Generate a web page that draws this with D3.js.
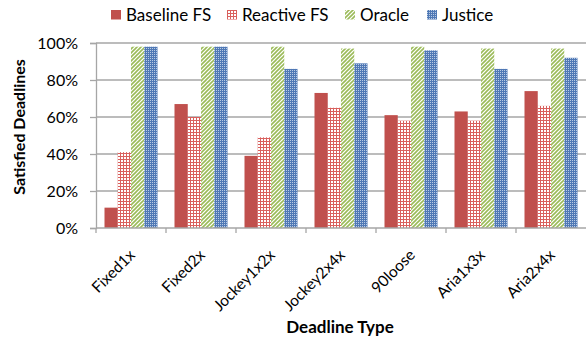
<!DOCTYPE html>
<html><head><meta charset="utf-8">
<script src="https://cdn.jsdelivr.net/npm/d3@7"></script>
<style>body{margin:0;background:#fff}svg{display:block}text{font-family:Lato,"Open Sans",sans-serif;fill:#000}</style>
</head><body>
<svg id="c" width="586" height="346"></svg>
<script>
const categories = ["Fixed1x","Fixed2x","Jockey1x2x","Jockey2x4x","90loose","Aria1x3x","Aria2x4x"];
const seriesNames = ["Baseline FS","Reactive FS","Oracle","Justice"];
const baseline = [11,67,39,73,61,63,74];
const reactive = [41,60,49,65,58,58,66];
const oracle   = [98,98,98,97,98,97,97];
const justice  = [98,98,86,89,96,86,92];
const yTicks = [0,20,40,60,80,100];
const series = [baseline, reactive, oracle, justice];

const svg = d3.select("#c");
const m = {l:96, r:0};
const W = 586, H = 346;
const defs = svg.append("defs");
// patterns
const p1 = defs.append("pattern").attr("id","pReact").attr("width",3).attr("height",3).attr("patternUnits","userSpaceOnUse");
p1.append("rect").attr("width",3).attr("height",3).attr("fill","#fff");
p1.append("rect").attr("width",1).attr("height",3).attr("fill","#D9605D");
p1.append("rect").attr("width",3).attr("height",1).attr("fill","#D9605D");
const p2 = defs.append("pattern").attr("id","pOracle").attr("width",4).attr("height",4).attr("patternUnits","userSpaceOnUse");
p2.append("rect").attr("width",4).attr("height",4).attr("fill","#fff");
p2.append("path").attr("d","M-1,1 L1,-1 M0,4 L4,0 M3,5 L5,3").attr("stroke","#9BBB59").attr("stroke-width",1.6);
const p3 = defs.append("pattern").attr("id","pJust").attr("width",2).attr("height",2).attr("patternUnits","userSpaceOnUse");
p3.append("rect").attr("width",2).attr("height",2).attr("fill","#4F78B5");
p3.append("rect").attr("width",1).attr("height",1).attr("fill","#B9CBE4");
const fills = ["#C0504D","url(#pReact)","url(#pOracle)","url(#pJust)"];

const x = d3.scaleBand().domain(categories).range([m.l, W - m.r]).paddingInner(0).paddingOuter(0);
const y = d3.scaleLinear().domain([0,100]).range([228, 43]);
const xs = d3.scaleBand().domain(seriesNames).range([8.5, x.bandwidth()-8.5]);

// gridlines
svg.append("g").selectAll("line").data(yTicks.filter(d=>d>0)).join("line")
  .attr("x1", m.l).attr("x2", W).attr("y1", d=>y(d)).attr("y2", d=>y(d))
  .attr("stroke","#A6A6A6").attr("stroke-width",1.3);

// y axis
const yAxis = d3.axisLeft(y).tickValues(yTicks).tickFormat(d=>d+"%").tickSize(6).tickPadding(12);
const gy = svg.append("g").attr("transform",`translate(${m.l},0)`).call(yAxis);
gy.select(".domain").attr("stroke","#A6A6A6").attr("stroke-width",1.3);
gy.selectAll(".tick line").attr("stroke","#A6A6A6").attr("stroke-width",1.3);
gy.selectAll(".tick text").attr("font-size",16).attr("font-family","Lato,sans-serif").attr("fill","#000");

// bars
const groups = svg.append("g").selectAll("g").data(categories).join("g")
  .attr("transform", d=>`translate(${x(d)},0)`);
groups.selectAll("rect").data((c,i)=>series.map((s,j)=>({name:seriesNames[j], v:s[i], j})))
  .join("rect")
  .attr("x", d=>xs(d.name)).attr("width", xs.bandwidth())
  .attr("y", d=>y(d.v)).attr("height", d=>y(0)-y(d.v))
  .attr("fill", d=>fills[d.j]);

// x axis
const gx = svg.append("g").attr("transform",`translate(0,${y(0)})`);
gx.append("line").attr("x1",m.l).attr("x2",W).attr("stroke","#A6A6A6").attr("stroke-width",1.3);
gx.selectAll(".tk").data(categories).join("line").attr("class","tk")
  .attr("x1",d=>x(d)).attr("x2",d=>x(d)).attr("y1",0).attr("y2",5)
  .attr("stroke","#A6A6A6").attr("stroke-width",1.3);
gx.selectAll("text").data(categories).join("text")
  .attr("text-anchor","end").attr("font-size",15.5)
  .attr("transform", d=>`translate(${x(d)+x.bandwidth()/2+5},${28}) rotate(-45)`)
  .text(d=>d);

// axis titles
svg.append("text").attr("transform","translate(25,127) rotate(-90)").attr("text-anchor","middle")
  .attr("font-size",16).attr("font-weight","bold").text("Satisfied Deadlines");
svg.append("text").attr("x",340).attr("y",333).attr("text-anchor","middle")
  .attr("font-size",17).attr("font-weight","bold").text("Deadline Type");

// legend
const legX = [111, 227, 345, 427];
const lg = svg.append("g").selectAll("g").data(seriesNames).join("g")
  .attr("transform",(d,i)=>`translate(${legX[i]},10)`);
lg.append("rect").attr("width",10).attr("height",9.5).attr("fill",(d,i)=>fills[i]);
lg.append("text").attr("x",15).attr("y",10.5).attr("font-size",17).text(d=>d);
</script>
</body></html>
